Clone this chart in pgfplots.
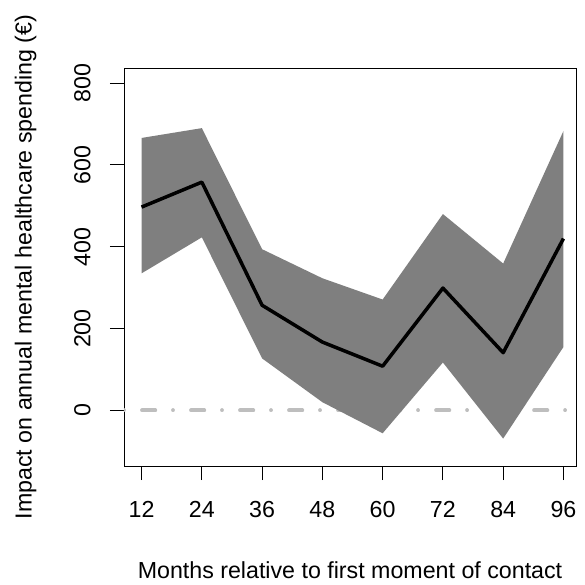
\documentclass[border=0pt]{standalone}
\usepackage{fontspec}
\setmainfont{Liberation Sans}
\usepackage{pgfplots}
\pgfplotsset{compat=1.18}
\definecolor{gfill}{HTML}{7F7F7F}
\definecolor{gzero}{HTML}{BEBEBE}
\begin{document}
\begin{tikzpicture}
\begin{axis}[
  scale only axis,
  width=452bp, height=398bp,
  xmin=8.5, xmax=98.5,
  ymin=-136, ymax=837,
  xtick={12,24,36,48,60,72,84,96},
  ytick={0,200,400,600,800},
  tick pos=left,
  tick align=outside,
  major tick length=14bp,
  major tick style={black, line width=0.9bp},
  axis line style={black, line width=0.9bp},
  /pgf/number format/assume math mode=true,
  ticklabel style={font=\fontsize{23.3}{27}\selectfont},
  xticklabel style={anchor=base, yshift=-37.3bp},
  yticklabel style={xshift=-19.5bp, rotate=90, anchor=base},
  xlabel={Months relative to first moment of contact},
  ylabel={Impact on annual mental healthcare spending (€)},
  label style={font=\fontsize{23.3}{27}\selectfont},
  xlabel style={at={(axis description cs:0.5,0)}, anchor=base, yshift=-112.3bp},
  ylabel style={at={(axis description cs:-0.2046,0.5)}, anchor=base},
]
\addplot[gzero, line width=3.8bp, line cap=round, dash pattern=on 0.01bp off 18bp on 13.3bp off 17.7bp] coordinates {(8.5,0) (98.5,0)};
\addplot[fill=gfill, draw=none] coordinates {
  (12,666) (24,690) (36,394) (48,323) (60,271) (72,480) (84,359) (96,683)
  (96,155) (84,-69) (72,117) (60,-56) (48,20) (36,127) (24,423) (12,335)
};
\addplot[black, line width=3.5bp, line join=round] coordinates {
  (12,497) (24,558) (36,257) (48,167) (60,108) (72,299) (84,141) (96,420)
};
\end{axis}
\pgfresetboundingbox
\path[use as bounding box] ([shift={(-124bp,-119bp)}]current axis.south west) rectangle ([shift={(9bp,68bp)}]current axis.north east);
\end{tikzpicture}
\end{document}
